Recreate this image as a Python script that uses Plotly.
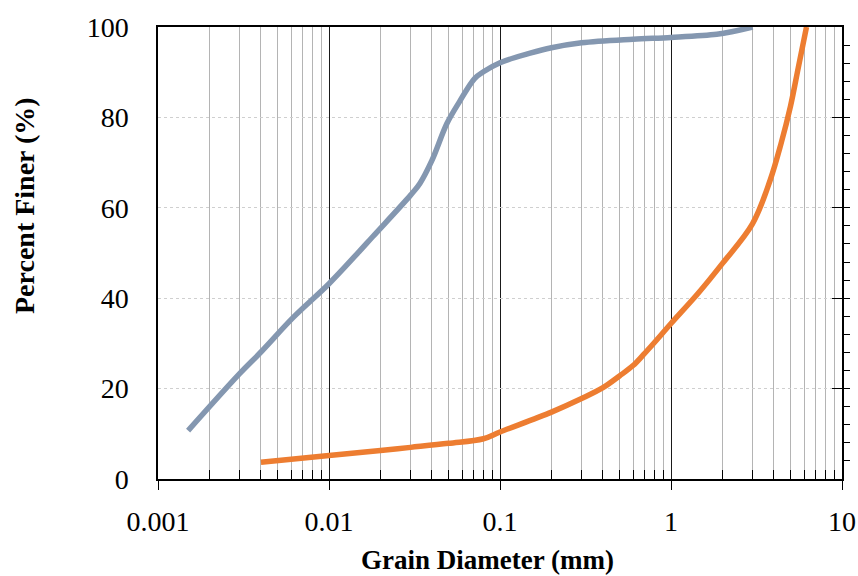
import plotly.graph_objects as go

# Fine-grained soil (blue) grain size distribution
fine_d = [0.0015, 0.0030, 0.0040, 0.0062, 0.010, 0.015, 0.018, 0.030, 0.034, 0.040,
          0.049, 0.058, 0.071, 0.080, 0.10, 0.15, 0.20, 0.30, 0.60, 1.0, 1.85, 2.3, 3.0]
fine_p = [10.7, 23.3, 28.1, 35.8, 43.2, 50.3, 53.6, 62.8, 65.4, 70.5,
          78.7, 83.5, 88.6, 90.1, 92.1, 94.2, 95.4, 96.5, 97.3, 97.7, 98.4, 99.0, 100]

# Coarse soil (orange) grain size distribution
coarse_d = [0.004, 0.01, 0.02, 0.03, 0.05, 0.08, 0.1, 0.2, 0.3, 0.4, 0.5, 0.6, 0.69,
            0.8, 1.0, 1.45, 2.0, 3.0, 3.8, 4.4, 5.0, 5.55, 6.2]
coarse_p = [3.7, 5.2, 6.3, 7.0, 7.9, 8.9, 10.4, 14.8, 17.8, 20.2, 22.8, 25.1, 27.5,
            30.2, 34.4, 41.2, 47.7, 56.5, 66.1, 74.2, 82.5, 91.0, 100]

x_major = [0.001, 0.01, 0.1, 1, 10]
x_major_text = ["0.001", "0.01", "0.1", "1", "10"]
x_minor = [m * 10 ** e for e in range(-3, 1) for m in range(2, 10)]
y_major = [0, 20, 40, 60, 80, 100]
y_minor = list(range(0, 101, 4))

fig = go.Figure()
fig.add_trace(go.Scatter(x=fine_d, y=fine_p, mode="lines",
                         line=dict(color="#8497B0", width=5.5, shape="spline", smoothing=1),
                         hoverinfo="skip"))
fig.add_trace(go.Scatter(x=coarse_d, y=coarse_p, mode="lines",
                         line=dict(color="#ED7D31", width=5.5, shape="spline", smoothing=1),
                         hoverinfo="skip"))
fig.add_trace(go.Scatter(x=[], y=[], yaxis="y2", showlegend=False, hoverinfo="skip"))

font = "Liberation Serif"
fig.update_layout(
    width=858, height=576,
    margin=dict(l=158, r=16, t=27, b=97, autoexpand=False),
    paper_bgcolor="white", plot_bgcolor="white",
    showlegend=False,
    font=dict(family=font, size=28, color="black"),
    xaxis=dict(
        type="log", range=[-3, 1], automargin=False,
        tickmode="array", tickvals=x_major, ticktext=x_major_text,
        showgrid=True, gridcolor="#1A1A1A", gridwidth=1.3,
        ticks="outside", ticklen=9, tickcolor="black", tickwidth=1.3,
        showline=True, linecolor="black", linewidth=1.5, mirror=True,
        zeroline=False,
        ticklabelstandoff=8,
        tickfont=dict(family=font, size=28, color="black"),
        minor=dict(tickmode="array", tickvals=x_minor, ticks="inside", ticklen=9,
                   tickcolor="black", tickwidth=1.3,
                   showgrid=True, gridcolor="#B4B4B4", gridwidth=1.4),
    ),
    yaxis=dict(
        range=[0, 100], tickmode="array", tickvals=y_major, automargin=False,
        showgrid=True, gridcolor="#CFCFCF", gridwidth=1.2, griddash="dot",
        ticks="", showline=True, linecolor="black", linewidth=1.5, mirror=True,
        zeroline=False, ticklabelstandoff=22,
        tickfont=dict(family=font, size=28, color="black"),
    ),
    yaxis2=dict(
        range=[0, 100], overlaying="y", side="right", anchor="x", automargin=False,
        tickmode="array", tickvals=y_major, showticklabels=False,
        showgrid=False, zeroline=False, showline=True, linecolor="black", linewidth=1.5,
        ticks="inside", ticklen=10, tickcolor="black", tickwidth=1.3,
        minor=dict(tickmode="array", tickvals=y_minor, ticks="outside", ticklen=6,
                   tickcolor="black", tickwidth=1.3, showgrid=False),
    ),
    annotations=[
        dict(text="<b>Grain Diameter (mm)</b>", xref="paper", yref="paper",
             x=(487 - 158) / 684, y=-(560 - 479) / 452, xanchor="center", yanchor="middle",
             showarrow=False, font=dict(family=font, size=27, color="black")),
        dict(text="<b>Percent Finer (%)</b>", xref="paper", yref="paper",
             x=-(158 - 24) / 684, y=(479 - 206) / 452, xanchor="center", yanchor="middle",
             textangle=-90, showarrow=False, font=dict(family=font, size=28, color="black")),
    ],
)

fig.write_html(
    "out.html",
    config={"displayModeBar": False},
    post_script="document.body.style.margin='0';document.body.style.overflow='hidden';",
)
